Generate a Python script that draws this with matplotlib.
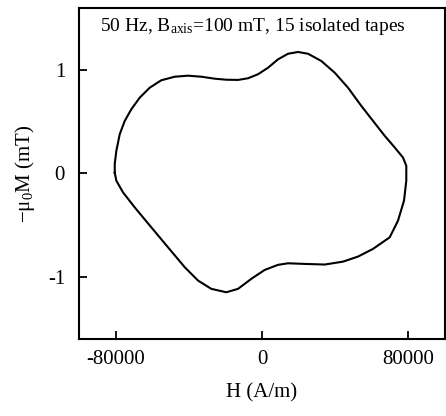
import matplotlib
matplotlib.use("Agg")
import matplotlib.pyplot as plt
import numpy as np

plt.rcParams['font.family'] = ['Liberation Serif', 'DejaVu Serif']
plt.rcParams['mathtext.fontset'] = 'custom'
plt.rcParams['mathtext.rm'] = 'Liberation Serif'
plt.rcParams['mathtext.default'] = 'regular'

# magnetisation loop (H in A/m, -mu0 M in mT)
H_loop = [-80440, -80440, -79570, -77710, -74980, -71380, -66790, -61330,
          -54990, -47670, -40410, -33150, -25830, -19500, -13110, -7650,
          -2180, 3280, 8740, 14200, 19660, 25120, 32380, 39700, 46960,
          54230, 60620, 67010, 72470, 77000, 78800, 78800, 77550, 74270,
          69740, 60620, 52430, 44230, 34240, 23320, 14200, 8740, 1470,
          -5840, -13110, -19500, -27690, -34950, -42210, -51330, -60450,
          -69520, -75910, -79570, -80440]
M_loop = [0.007, 0.094, 0.219, 0.380, 0.508, 0.621, 0.733, 0.829,
          0.901, 0.935, 0.945, 0.935, 0.916, 0.906, 0.904, 0.920,
          0.959, 1.022, 1.103, 1.157, 1.174, 1.157, 1.087, 0.974, 0.829,
          0.653, 0.508, 0.364, 0.251, 0.154, 0.074, -0.070, -0.263, -0.456,
          -0.617, -0.729, -0.803, -0.852, -0.880, -0.874, -0.868, -0.883, -0.932,
          -1.018, -1.115, -1.148, -1.115, -1.035, -0.906, -0.714, -0.521,
          -0.328, -0.183, -0.070, 0.007]

x_ticks = [-80000, 0, 80000]
y_ticks = [-1, 0, 1]

fig = plt.figure(figsize=(4.46, 4.16), dpi=100)
ax = fig.add_axes([0.177, 0.185, 0.821, 0.796])

ax.plot(H_loop, M_loop, color='black', linewidth=1.5, solid_joinstyle='round')

ax.set_xlim(-100000, 100000)
ax.set_ylim(-1.6, 1.6)
ax.set_xticks(x_ticks)
ax.set_xticklabels([str(v) for v in x_ticks])
ax.set_yticks(y_ticks)
ax.set_yticklabels([str(v) for v in y_ticks])
ax.tick_params(direction='in', length=6, width=1.3, labelsize=15, pad=8)
ax.tick_params(axis='y', pad=10)
for sp in ax.spines.values():
    sp.set_linewidth(1.5)

ax.set_xlabel('H (A/m)', fontsize=15, labelpad=10)
ax.set_ylabel('\u2212\u03bc$_0$M (mT)', fontsize=15, labelpad=8)

ax.text(0.057, 0.943, '50 Hz, B$_{axis}$=100 mT, 15 isolated tapes',
        transform=ax.transAxes, fontsize=14, va='center', ha='left')

fig.savefig('out.png', dpi=100)
